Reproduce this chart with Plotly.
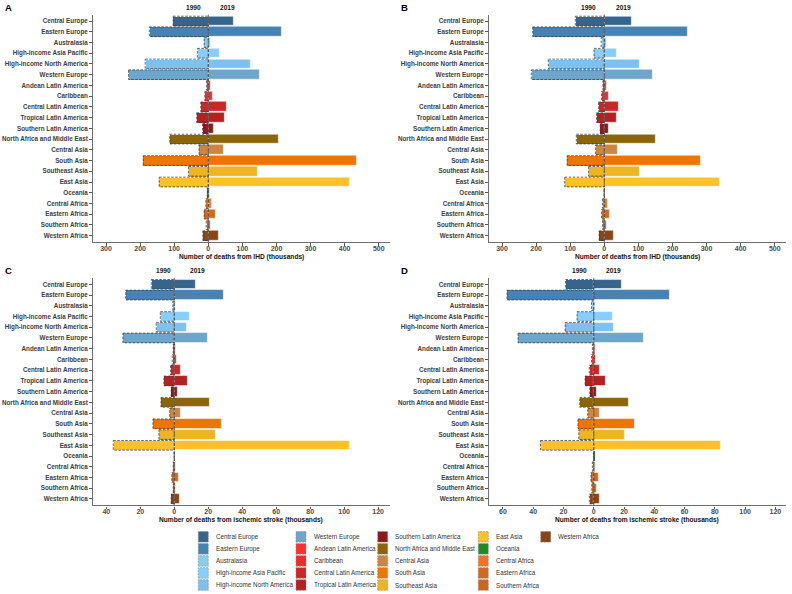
import plotly.graph_objects as go

# ---------------- data ----------------
regions = ["Central Europe", "Eastern Europe", "Australasia", "High-income Asia Pacific",
           "High-income North America", "Western Europe", "Andean Latin America", "Caribbean",
           "Central Latin America", "Tropical Latin America", "Southern Latin America",
           "North Africa and Middle East", "Central Asia", "South Asia", "Southeast Asia",
           "East Asia", "Oceania", "Central Africa", "Eastern Africa", "Southern Africa",
           "Western Africa"]

region_colors = ["#36648B", "#4682B4", "#87CEEB", "#87CEFF", "#7EC0EE", "#6CA6CD",
                 "#FF3030", "#EE2C2C", "#CD2626", "#B22222", "#8B1A1A", "#8B6508",
                 "#CD853F", "#EE7600", "#EEB422", "#FFC125", "#228B22", "#EE7621",
                 "#D2691E", "#CD661D", "#8B4513"]

# Panel A: IHD deaths (thousands)
ihd_a_1990 = [103, 173, 12, 32, 185, 234, 5, 10, 22, 34, 17, 113, 27, 191, 58, 144, 3, 7, 12, 6, 16]
ihd_a_2019 = [76, 215, 8, 34, 124, 152, 7, 13, 53, 49, 15, 206, 46, 436, 144, 415, 3, 9, 21, 8, 30]
# Panel B: IHD deaths (thousands)
ihd_b_1990 = [85, 210, 9, 30, 164, 214, 4, 8, 17, 23, 12, 82, 26, 109, 46, 116, 1, 5, 8, 5, 15]
ihd_b_2019 = [79, 246, 7, 36, 104, 143, 6, 12, 42, 36, 12, 150, 39, 283, 104, 338, 1, 9, 16, 8, 27]
# Panel C: ischemic stroke deaths (thousands)
is_c_1990 = [13.5, 28.6, 0.8, 8.2, 10.6, 30.2, 0.6, 1.2, 2.2, 6.1, 1.8, 7.8, 2.7, 12.5, 9.0, 35.9, 0.05, 0.6, 1.4, 0.6, 1.8]
is_c_2019 = [12.7, 29.0, 0.6, 9.2, 7.3, 19.8, 0.6, 1.6, 3.7, 7.8, 1.8, 20.8, 3.9, 28.2, 24.3, 103.3, 0.05, 0.8, 2.7, 0.8, 3.3]
# Panel D: ischemic stroke deaths (thousands)
is_d_1990 = [18.7, 57.3, 1.5, 11.0, 18.9, 50.0, 0.9, 1.5, 2.9, 5.7, 2.6, 9.3, 4.0, 10.4, 9.9, 35.2, 0.05, 0.9, 1.8, 1.3, 2.9]
is_d_2019 = [18.5, 50.0, 0.9, 12.8, 13.0, 32.8, 0.9, 1.5, 4.2, 7.7, 2.0, 22.9, 3.7, 27.1, 20.3, 83.9, 0.05, 0.9, 3.1, 2.0, 4.2]

ihd_ticks = [-300, -200, -100, 0, 100, 200, 300, 400, 500]
is_c_ticks = [-40, -20, 0, 20, 40, 60, 80, 100, 120]
is_d_ticks = [-60, -40, -20, 0, 20, 40, 60, 80, 100, 120]

ihd_title = "Number of deaths from IHD (thousands)"
is_title = "Number of deaths from ischemic stroke (thousands)"

# ---------------- layout helpers ----------------
W, H = 792, 594
FONT = "Liberation Sans, Arial, sans-serif"


def px_x(p):
    return p / W


def px_y(p):
    return 1 - p / H


panels = [
    dict(letter="A", v0=ihd_a_1990, v1=ihd_a_2019, x0=92.7, x1=390, top=14.6, bot=242.1,
         xr=[-339, 533], ticks=ihd_ticks, title=ihd_title, l90=-44, l19=56, ly=7),
    dict(letter="B", v0=ihd_b_1990, v1=ihd_b_2019, x0=488.7, x1=786, top=14.6, bot=242.1,
         xr=[-339, 533], ticks=ihd_ticks, title=ihd_title, l90=-46, l19=55, ly=7),
    dict(letter="C", v0=is_c_1990, v1=is_c_2019, x0=92.7, x1=390, top=277.9, bot=505.4,
         xr=[-48, 127], ticks=is_c_ticks, title=is_title, l90=-6.2, l19=13.5, ly=270.5),
    dict(letter="D", v0=is_d_1990, v1=is_d_2019, x0=488.7, x1=786, top=277.9, bot=505.4,
         xr=[-69.4, 127], ticks=is_d_ticks, title=is_title, l90=-9.7, l19=13, ly=270.5),
]

fig = go.Figure()
annotations = []
shapes = []
ypos = list(range(len(regions)))
BW = 0.9

for n, p in enumerate(panels, start=1):
    xa = "x" if n == 1 else f"x{n}"
    ya = "y" if n == 1 else f"y{n}"
    neg = [-v for v in p["v0"]]
    # 1990 bars (left)
    fig.add_trace(go.Bar(x=neg, y=ypos, orientation="h", width=BW,
                         marker=dict(color=region_colors, line=dict(width=0)),
                         xaxis=xa, yaxis=ya, showlegend=False, name="1990"))
    # 2019 bars (right)
    fig.add_trace(go.Bar(x=p["v1"], y=ypos, orientation="h", width=BW,
                         marker=dict(color=region_colors,
                                     line=dict(width=0.7, color="rgba(255,255,255,0.75)")),
                         xaxis=xa, yaxis=ya, showlegend=False, name="2019"))
    # dashed outline of the 1990 bars (derived from the same values)
    ox, oy = [], []
    for i, v in zip(ypos, neg):
        ox += [v, 0, 0, v, v, None]
        oy += [i - BW / 2, i - BW / 2, i + BW / 2, i + BW / 2, i - BW / 2, None]
    fig.add_trace(go.Scatter(x=ox, y=oy, mode="lines",
                             line=dict(color="#3a3a3a", width=0.8, dash="2.5px,1.5px"),
                             xaxis=xa, yaxis=ya, showlegend=False, hoverinfo="skip"))

    xkey = "xaxis" if n == 1 else f"xaxis{n}"
    ykey = "yaxis" if n == 1 else f"yaxis{n}"
    fig.update_layout(**{
        xkey: dict(domain=[px_x(p["x0"]), px_x(p["x1"])], range=p["xr"], anchor=ya,
                   tickvals=p["ticks"], ticktext=[str(abs(t)) for t in p["ticks"]],
                   showline=True, linecolor="#6e6e6e", linewidth=1.3, ticks="outside",
                   ticklen=2.5, tickwidth=0.8, tickcolor="#555", ticklabelstandoff=-3,
                   tickfont=dict(family=FONT, size=7, color="#4a4a4a", weight="bold"),
                   showgrid=False, zeroline=False, fixedrange=True),
        ykey: dict(domain=[px_y(p["bot"]), px_y(p["top"])], range=[len(regions) - 0.4, -0.6],
                   anchor=xa, tickvals=ypos, ticktext=regions,
                   showline=True, linecolor="#6e6e6e", linewidth=1.3, ticks="outside",
                   ticklen=2.5, tickwidth=0.8, tickcolor="#555", ticklabelstandoff=0,
                   tickfont=dict(family=FONT, size=6.3, color="#3c3c3c", weight="bold"),
                   showgrid=False, zeroline=False, fixedrange=True),
    })

    # zero dashed line
    shapes.append(dict(type="line", xref=xa, yref=f"{ya} domain", x0=0, x1=0, y0=0, y1=1,
                       line=dict(color="#444", width=0.8, dash="3px,2px")))
    # axis title
    annotations.append(dict(text=f"<b>{p['title']}</b>", xref="paper", yref="paper",
                            x=px_x((p["x0"] + p["x1"]) / 2), y=px_y(p["bot"] + 14.6),
                            showarrow=False, xanchor="center", yanchor="middle",
                            font=dict(family=FONT, size=6.6, color="#111")))
    # year labels
    for val, txt in [(p["l90"], "1990"), (p["l19"], "2019")]:
        annotations.append(dict(text=f"<b>{txt}</b>", xref=xa, yref="paper", x=val,
                                y=px_y(p["ly"]), showarrow=False, xanchor="center",
                                yanchor="middle", font=dict(family=FONT, size=6.6, color="#111")))
    # panel letter
    annotations.append(dict(text=f"<b>{p['letter']}</b>", xref="paper", yref="paper",
                            x=px_x(p["x0"] - 89.5), y=px_y(p["ly"]), showarrow=False,
                            xanchor="left", yanchor="middle",
                            font=dict(family=FONT, size=9.5, color="#000")))

# ---------------- legend (built from regions / colours) ----------------
leg_col_x = [198.3, 296, 377.7, 478.3, 540.7]
leg_row0 = 536.8
leg_dy = 12.05
for k, (name, col) in enumerate(zip(regions, region_colors)):
    c, r = divmod(k, 5)
    lx = leg_col_x[c]
    cy = leg_row0 + r * leg_dy
    shapes.append(dict(type="rect", xref="paper", yref="paper",
                       x0=px_x(lx), x1=px_x(lx + 10), y0=px_y(cy + 5.3), y1=px_y(cy - 5.3),
                       fillcolor=col, line=dict(color="#8a8a8a", width=0.6, dash="2px,1px")))
    annotations.append(dict(text=name, xref="paper", yref="paper", x=px_x(lx + 15.5),
                            y=px_y(cy), showarrow=False, xanchor="left", yanchor="middle",
                            font=dict(family=FONT, size=6.3, color="#333")))

fig.update_layout(width=W, height=H, margin=dict(l=0, r=0, t=0, b=0),
                  paper_bgcolor="white", plot_bgcolor="white", barmode="overlay",
                  bargap=0, annotations=annotations, shapes=shapes, showlegend=False,
                  font=dict(family=FONT))

fig.write_html("out.html", config={"displayModeBar": False},
               post_script="document.body.style.margin='0';document.body.style.padding='0';")
